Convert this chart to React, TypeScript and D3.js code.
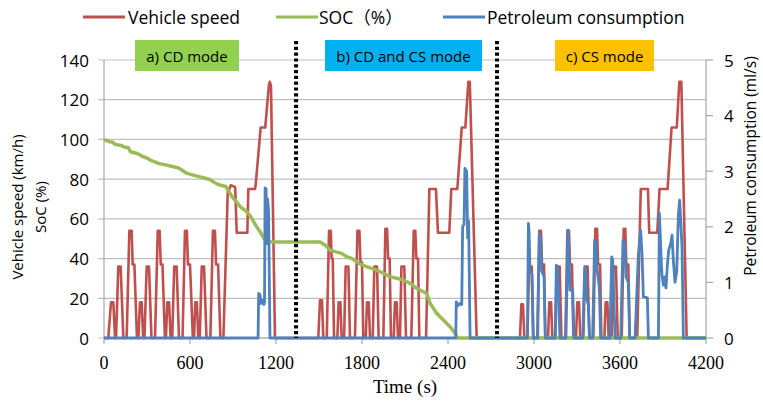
import React from 'react';
import * as d3 from 'd3';

// ---------- data ----------
const legendLabels = ['Vehicle speed', 'SOC（%）', 'Petroleum consumption'];
const modeLabels = ['a) CD mode', 'b) CD and CS mode', 'c) CS mode'];
const modeSpans: [number, number][] = [[216, 942], [1542, 2637], [3147, 3837]];
const modeBoundaries = [1340, 2742];
const xTicks = [0, 600, 1200, 1800, 2400, 3000, 3600, 4200];
const yLeftTicks = [0, 20, 40, 60, 80, 100, 120, 140];
const yRightTicks = [0, 1, 2, 3, 4, 5];

// Vehicle speed (km/h), [time s, speed]
const speedCycle1: [number, number][] = [
  [0, 0], [30, 0], [49, 18], [65, 18], [77, 0], [84, 0], [100, 36], [116, 36], [135, 0],
  [158, 0], [177, 54], [193, 54], [200, 37], [212, 37], [230, 0],
  [240, 0], [251, 18], [263, 18], [273, 0], [282, 0], [298, 36], [314, 36], [331, 0],
  [356, 0], [375, 54], [388, 54], [396, 37], [408, 37], [425, 0],
  [432, 0], [442, 18], [454, 18], [465, 0], [476, 0], [490, 36], [507, 36], [523, 0],
  [548, 0], [565, 54], [578, 54], [586, 37], [600, 37], [620, 0],
  [628, 0], [637, 18], [648, 18], [658, 0], [668, 0], [682, 36], [698, 36], [715, 0],
  [742, 0], [760, 54], [774, 54], [782, 37], [796, 37], [812, 0],
  [833, 0], [864, 75], [875, 75], [885, 77], [915, 76], [926, 53], [1000, 53], [1007, 75],
  [1053, 75], [1058, 77], [1093, 106], [1125, 106], [1150, 127], [1157, 129], [1165, 127], [1193, 0],
];
const speedCycle2: [number, number][] = [
  [1495, 0], [1507, 19], [1521, 19], [1530, 0], [1554, 0], [1570, 54], [1582, 54], [1588, 40], [1596, 40], [1605, 0],
  [1628, 0], [1637, 18], [1649, 18], [1658, 0], [1675, 0], [1686, 36], [1705, 36], [1716, 0],
  [1751, 0], [1768, 54], [1782, 54], [1789, 38], [1800, 38], [1809, 0],
  [1826, 0], [1835, 18], [1847, 18], [1856, 0], [1875, 0], [1886, 36], [1905, 36], [1916, 0],
  [1949, 0], [1963, 55], [1975, 55], [1982, 40], [1993, 40], [2002, 0],
  [2021, 0], [2030, 18], [2042, 18], [2051, 0], [2065, 0], [2075, 36], [2095, 36], [2107, 0],
  [2144, 0], [2161, 54], [2172, 54], [2179, 40], [2191, 40], [2200, 0],
  [2247, 0], [2270, 75], [2316, 75], [2330, 53], [2409, 53], [2423, 75], [2465, 75],
  [2496, 106], [2521, 106], [2542, 129], [2552, 129], [2600, 0],
];
const speedCycle3: [number, number][] = [
  [2902, 0], [2912, 17], [2923, 17], [2933, 0], [2954, 0], [2965, 36], [2984, 36], [2995, 0],
  [3023, 0], [3037, 54], [3049, 54], [3056, 37], [3070, 37], [3079, 0],
  [3098, 0], [3107, 18], [3119, 18], [3128, 0], [3149, 0], [3161, 36], [3179, 36], [3191, 0],
  [3219, 0], [3233, 54], [3244, 54], [3251, 37], [3265, 37], [3275, 0],
  [3293, 0], [3302, 18], [3314, 18], [3323, 0], [3344, 0], [3356, 36], [3374, 36], [3386, 0],
  [3414, 0], [3428, 55], [3440, 55], [3447, 37], [3461, 37], [3470, 0],
  [3491, 0], [3500, 18], [3512, 18], [3521, 0], [3542, 0], [3554, 36], [3572, 36], [3584, 0],
  [3612, 0], [3626, 55], [3637, 55], [3644, 37], [3658, 37], [3668, 0],
  [3720, 0], [3745, 75], [3795, 75], [3804, 53], [3860, 53], [3876, 75], [3932, 75],
  [3960, 106], [3996, 106], [4014, 129], [4028, 129], [4065, 0], [4200, 0],
];

// SOC (%), [time s, soc]
const socSeries: [number, number][] = [
  [0, 99.7], [20, 99.5], [35, 98.9], [60, 98.6], [80, 97.4], [120, 97.0], [140, 96.2], [170, 95.8],
  [185, 93.8], [220, 93.2], [240, 92.6], [270, 91.4], [300, 90.6], [325, 89.5], [360, 88.6], [385, 87.8],
  [430, 87.2], [470, 86.5], [520, 85.6], [545, 84.5], [575, 83.0], [610, 82.3], [650, 81.5], [700, 80.6],
  [740, 79.8], [765, 78.6], [800, 77.2], [850, 76.3], [870, 74.0], [895, 71.0], [925, 68.5], [950, 66.2],
  [995, 63.6], [1020, 61.5], [1045, 58.5], [1065, 56.0], [1090, 53.4], [1110, 50.8], [1125, 49.2],
  [1145, 48.4], [1200, 48.3], [1507, 48.3], [1542, 46.8], [1577, 44.3], [1612, 43.5], [1658, 42.6],
  [1693, 40.9], [1728, 40.1], [1763, 38.4], [1798, 36.8], [1833, 35.9], [1868, 35.1], [1902, 34.2],
  [1949, 32.6], [1995, 30.9], [2042, 30.1], [2089, 29.2], [2135, 27.5], [2182, 25.0], [2228, 23.3],
  [2251, 22.5], [2275, 17.5], [2321, 12.4], [2368, 9.1], [2414, 5.7], [2449, 2.4], [2465, 0], [4200, 0],
];

// Petroleum consumption (ml/s), [time s, value]
const petrolCycle1: [number, number][] = [
  [0, 0], [1075, 0], [1079, 0.8], [1088, 0.78], [1095, 0.62], [1105, 0.68], [1115, 0.6], [1120, 0.65],
  [1124, 2.7], [1131, 2.68], [1136, 1.7], [1141, 2.5], [1148, 2.3], [1158, 0],
];
const petrolCycle2: [number, number][] = [
  [2454, 0], [2458, 0.65], [2470, 0.58], [2482, 0.62], [2496, 0.6], [2502, 2.0], [2512, 2.05],
  [2518, 3.05], [2530, 3.0], [2537, 1.8], [2544, 2.1], [2554, 0],
];
const petrolCycle3: [number, number][] = [
  [2954, 0], [2961, 2.06], [2966, 1.9], [2972, 1.22], [2986, 1.15], [2995, 0],
  [3026, 0], [3037, 1.88], [3046, 1.8], [3054, 1.2], [3070, 1.1], [3079, 0],
  [3147, 0], [3156, 1.31], [3165, 1.25], [3172, 0.7], [3181, 0],
  [3223, 0], [3237, 1.94], [3244, 1.6], [3251, 0.86], [3270, 0.86], [3279, 0],
  [3340, 0], [3354, 1.28], [3361, 1.2], [3368, 0.7], [3379, 0.6], [3388, 0],
  [3409, 0], [3423, 1.76], [3432, 1.7], [3442, 1.2], [3456, 0.9], [3465, 0],
  [3530, 0], [3542, 1.46], [3549, 1.4], [3558, 0.6], [3566, 0],
  [3605, 0], [3621, 1.76], [3632, 1.7], [3642, 1.1], [3658, 1.0], [3668, 0],
  [3705, 0], [3728, 1.5], [3744, 1.94], [3754, 1.5], [3763, 0.74], [3791, 0.72], [3798, 0],
  [3868, 0], [3875, 2.24], [3886, 1.5], [3893, 1.13], [3903, 0.95], [3910, 1.1], [3921, 0.9],
  [3930, 1.3], [3940, 1.58], [3954, 1.7], [3963, 1.85], [3972, 1.4], [3984, 1.0], [3996, 1.2],
  [4007, 2.2], [4016, 2.48], [4026, 2.0], [4033, 1.6], [4042, 0], [4200, 0],
];

// ---------- layout ----------
const W = 763;
const H = 401;
const M = { left: 104, right: 706, top: 60, bottom: 338 };
const C = {
  red: '#C0504D',
  green: '#9BBB59',
  blue: '#4F81BD',
  grid: '#BFBFBF',
  axis: '#A6A6A6',
  boxes: ['#92D050', '#00B0F0', '#FFC000'],
};
const SANS = '"Open Sans", "Noto Sans", "Noto Sans CJK SC", sans-serif';
const SERIF = '"Liberation Serif", "DejaVu Serif", serif';

export default function App() {
  const x = d3.scaleLinear().domain([0, 4200]).range([M.left, M.right]);
  const yL = d3.scaleLinear().domain([0, 140]).range([M.bottom, M.top]);
  const yR = d3.scaleLinear().domain([0, 5]).range([M.bottom, M.top]);

  const speed = [...speedCycle1, ...speedCycle2, ...speedCycle3];
  const petrol = [...petrolCycle1, ...petrolCycle2, ...petrolCycle3];

  const lineL = d3.line<[number, number]>().x((d) => x(d[0])).y((d) => yL(d[1]));
  const lineR = d3.line<[number, number]>().x((d) => x(d[0])).y((d) => yR(d[1]));

  const legendItems = [
    { color: C.red, lx: 83, tx: 128 },
    { color: C.green, lx: 276, tx: 319 },
    { color: C.blue, lx: 443, tx: 487 },
  ];

  return (
    <div style={{ position: 'absolute', left: 0, top: 0 }}>
      <svg width={W} height={H} viewBox={`0 0 ${W} ${H}`} style={{ display: 'block', background: '#fff' }}>
        <rect x={0} y={0} width={W} height={H} fill="#fff" />
        {/* gridlines */}
        {yLeftTicks.map((t) => (
          <line key={'g' + t} x1={M.left - 6} x2={M.right} y1={yL(t)} y2={yL(t)} stroke={C.grid} strokeWidth={1.2} />
        ))}
        {/* axes */}
        <line x1={M.left} x2={M.left} y1={M.top} y2={M.bottom} stroke={C.axis} strokeWidth={1.2} />
        <line x1={M.right} x2={M.right} y1={M.top} y2={M.bottom} stroke={C.axis} strokeWidth={1.2} />
        <line x1={M.left} x2={M.right} y1={M.bottom} y2={M.bottom} stroke={C.axis} strokeWidth={1.2} />
        {xTicks.map((t) => (
          <line key={'xt' + t} x1={x(t)} x2={x(t)} y1={M.bottom} y2={M.bottom + 6} stroke={C.axis} strokeWidth={1.2} />
        ))}
        {yRightTicks.map((t) => (
          <line key={'rt' + t} x1={M.right} x2={M.right + 7} y1={yR(t)} y2={yR(t)} stroke={C.axis} strokeWidth={1.2} />
        ))}

        {/* tick labels */}
        {yLeftTicks.map((t) => (
          <text key={'yl' + t} x={89} y={yL(t)} textAnchor="end" dominantBaseline="central" fontFamily={SANS} fontSize={17} fill="#000">
            {t}
          </text>
        ))}
        {yRightTicks.map((t) => (
          <text key={'yr' + t} x={724} y={yR(t)} textAnchor="start" dominantBaseline="central" fontFamily={SANS} fontSize={17} fill="#000">
            {t}
          </text>
        ))}
        {xTicks.map((t) => (
          <text key={'xl' + t} x={x(t)} y={363} textAnchor="middle" dominantBaseline="central" fontFamily={SERIF} fontSize={18} fill="#000">
            {t}
          </text>
        ))}

        {/* axis titles */}
        <text x={(M.left + M.right) / 2} y={386} textAnchor="middle" dominantBaseline="central" fontFamily={SERIF} fontSize={19} fill="#000">
          Time (s)
        </text>
        <text transform="translate(17,207) rotate(-90)" textAnchor="middle" dominantBaseline="central" fontFamily={SANS} fontSize={15} fill="#000">
          Vehicle speed (km/h)
        </text>
        <text transform="translate(40,207) rotate(-90)" textAnchor="middle" dominantBaseline="central" fontFamily={SANS} fontSize={15} fill="#000">
          SoC (%)
        </text>
        <text transform="translate(750,166) rotate(-90)" textAnchor="middle" dominantBaseline="central" fontFamily={SANS} fontSize={15.5} fill="#000">
          Petroleum consumption (ml/s)
        </text>

        {/* series */}
        <path d={lineL(speed) || ''} fill="none" stroke={C.red} strokeWidth={2.6} strokeLinejoin="round" />
        <path d={lineL(socSeries) || ''} fill="none" stroke={C.green} strokeWidth={3.5} strokeLinejoin="round" />
        <path d={lineR(petrol) || ''} fill="none" stroke={C.blue} strokeWidth={2.8} strokeLinejoin="round" />

        {/* mode boundaries */}
        {modeBoundaries.map((t) => (
          <line key={'mb' + t} x1={x(t)} x2={x(t)} y1={41} y2={M.bottom} stroke="#000" strokeWidth={4} strokeDasharray="3.2 2.6" />
        ))}

        {/* mode labels */}
        {modeLabels.map((lab, i) => {
          const [a, b] = modeSpans[i];
          return (
            <g key={lab}>
              <rect x={x(a)} y={40} width={x(b) - x(a)} height={31} fill={C.boxes[i]} />
              <text x={(x(a) + x(b)) / 2} y={56} textAnchor="middle" dominantBaseline="central" fontFamily={SANS} fontSize={15} fill="#000">
                {lab}
              </text>
            </g>
          );
        })}

        {/* legend */}
        {legendLabels.map((lab, i) => (
          <g key={lab}>
            <line x1={legendItems[i].lx} x2={legendItems[i].lx + 42} y1={17} y2={17} stroke={legendItems[i].color} strokeWidth={3} />
            <text x={legendItems[i].tx} y={17} dominantBaseline="central" fontFamily={SANS} fontSize={17.5} fill="#000">
              {lab}
            </text>
          </g>
        ))}
      </svg>
    </div>
  );
}
